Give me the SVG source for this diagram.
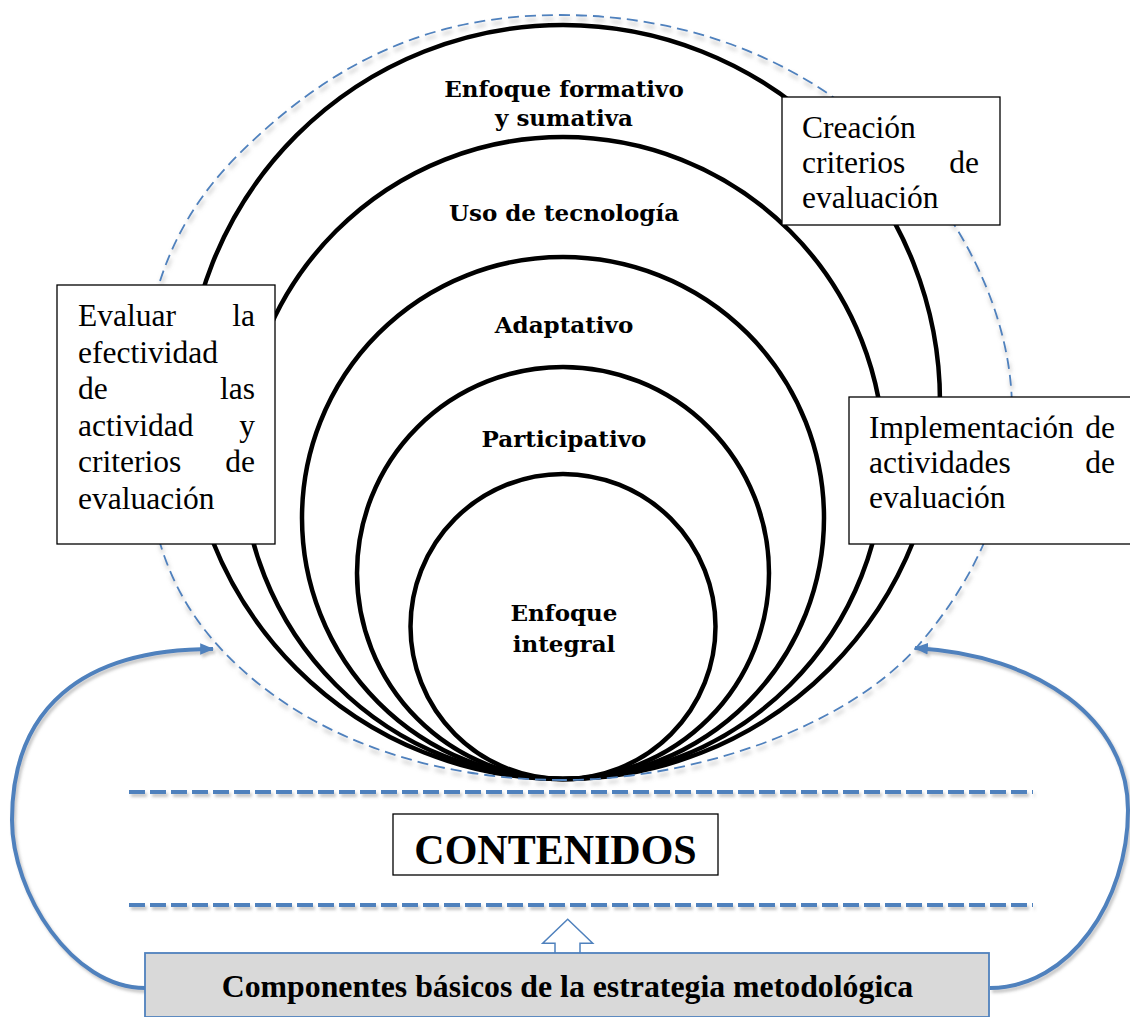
<svg xmlns="http://www.w3.org/2000/svg" width="1130" height="1017" viewBox="0 0 1130 1017">
<style>
.ring{fill:none;stroke:#000;stroke-width:4.5}
.lbl{font-weight:bold;font-size:23px;fill:#000;text-anchor:middle}
.box{fill:#fff;stroke:#000;stroke-width:1.3}
.bt{font-size:31.5px;fill:#000}
.end{text-anchor:end}
.blue{fill:none;stroke:#4f81bd}
</style>
<defs>
<filter id="sh" filterUnits="userSpaceOnUse" x="0" y="0" width="1130" height="1017">
<feDropShadow dx="2" dy="3" stdDeviation="1.5" flood-color="#808080" flood-opacity="0.45"/>
</filter>
<filter id="sh2" filterUnits="userSpaceOnUse" x="0" y="0" width="1130" height="1017">
<feDropShadow dx="1" dy="4" stdDeviation="2" flood-color="#808080" flood-opacity="0.6"/>
</filter>
<marker id="ah" viewBox="0 0 12 10" refX="11" refY="5" markerWidth="14" markerHeight="12" markerUnits="userSpaceOnUse" orient="auto">
<path d="M0,0 L12,5 L0,10 Z" fill="#4f81bd"/>
</marker>
</defs>

<g id="rings">
<circle class="ring" cx="563" cy="402" r="377"/>
<circle class="ring" cx="563" cy="458" r="321"/>
<circle class="ring" cx="563" cy="518" r="261"/>
<circle class="ring" cx="563" cy="573" r="206"/>
<circle class="ring" cx="563" cy="626.5" r="152.5"/>
</g>

<g id="outline">
<path class="blue" stroke-width="1.8" stroke-dasharray="11 6" filter="url(#sh2)" d="M563,780 C433,780 298,738 213,640 C154,572 143,490 143,400 C143,300 172,220 240,153 C332,62 430,15 560,15 C690,15 814,62 902,157 C967,226 1012,320 1012,410 C1012,500 976,579 917,647 C844,729 690,780 563,780 Z"/>
</g>

<g id="labels" font-family="DejaVu Serif, Liberation Serif, serif">
<text class="lbl" x="564" y="97">Enfoque formativo</text>
<text class="lbl" x="564" y="126">y sumativa</text>
<text class="lbl" x="564" y="221">Uso de tecnología</text>
<text class="lbl" x="564" y="333">Adaptativo</text>
<text class="lbl" x="564" y="447">Participativo</text>
<text class="lbl" x="564" y="621">Enfoque</text>
<text class="lbl" x="564" y="652">integral</text>
</g>

<g id="box-evaluar" font-family="Liberation Serif, Times New Roman, serif">
<rect class="box" x="57" y="285" width="218" height="259"/>
<text class="bt" x="78" y="326">Evaluar</text><text class="bt end" x="255" y="326">la</text>
<text class="bt" x="78" y="362.5">efectividad</text>
<text class="bt" x="78" y="399">de</text><text class="bt end" x="255" y="399">las</text>
<text class="bt" x="78" y="435.5">actividad</text><text class="bt end" x="255" y="435.5">y</text>
<text class="bt" x="78" y="472">criterios</text><text class="bt end" x="255" y="472">de</text>
<text class="bt" x="78" y="508.5">evaluación</text>
</g>

<g id="box-creacion" font-family="Liberation Serif, Times New Roman, serif">
<rect class="box" x="782" y="97" width="218" height="128"/>
<text class="bt" x="802" y="138">Creación</text>
<text class="bt" x="802" y="173">criterios</text><text class="bt end" x="979" y="173">de</text>
<text class="bt" x="802" y="208">evaluación</text>
</g>

<g id="box-implementacion" font-family="Liberation Serif, Times New Roman, serif">
<rect class="box" x="849" y="397" width="290" height="147"/>
<text class="bt" x="869" y="438">Implementación</text><text class="bt end" x="1115" y="438">de</text>
<text class="bt" x="869" y="473">actividades</text><text class="bt end" x="1115" y="473">de</text>
<text class="bt" x="869" y="508">evaluación</text>
</g>

<g id="connectors">
<path class="blue" d="M129,792 H1033" stroke-width="4" stroke-dasharray="16 5" filter="url(#sh)"/>
<path class="blue" d="M129,905 H1033" stroke-width="4" stroke-dasharray="16 5" filter="url(#sh)"/>
<path class="blue" stroke-width="4" filter="url(#sh)" marker-end="url(#ah)" d="M145,988 C72,988 12,893 12,820 C12,710 80,649 213,649"/>
<path class="blue" stroke-width="4" filter="url(#sh)" marker-end="url(#ah)" d="M990,988 C1070,988 1128,900 1128,810 C1128,720 1040,655 915,648"/>
<path d="M555,953 L555,943.3 L542.7,943.3 L567.7,919.3 L592.7,943.3 L580,943.3 L580,953" fill="#fff" stroke="#4f81bd" stroke-width="1.5"/>
</g>

<g id="box-contenidos" font-family="Liberation Serif, Times New Roman, serif">
<rect class="box" x="393" y="814" width="325" height="61"/>
<text x="555.5" y="864" text-anchor="middle" font-weight="bold" font-size="42">CONTENIDOS</text>
</g>

<g id="box-componentes" font-family="Liberation Serif, Times New Roman, serif">
<rect x="145" y="953" width="844" height="64" fill="#d9d9d9" stroke="#4f81bd" stroke-width="1.8"/>
<text x="567.5" y="997" text-anchor="middle" font-weight="bold" font-size="31.8">Componentes básicos de la estrategia metodológica</text>
</g>
</svg>
